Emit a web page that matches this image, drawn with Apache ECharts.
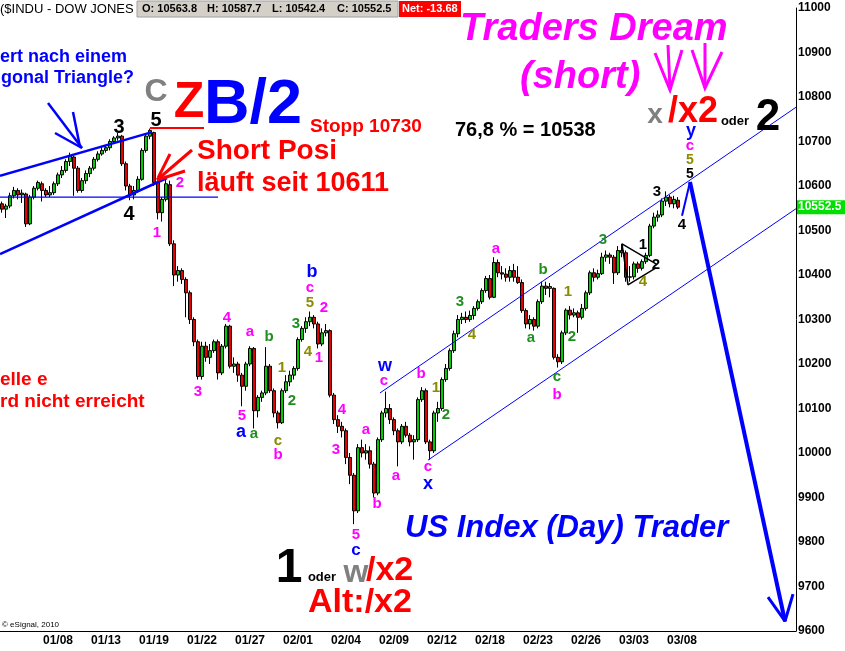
<!DOCTYPE html>
<html><head><meta charset="utf-8">
<script src="https://cdn.jsdelivr.net/npm/echarts@6/dist/echarts.min.js"></script>
<style>html,body{margin:0;padding:0;background:#fff}#c{width:845px;height:651px}</style>
</head><body><div id="c"></div>
<script>
// ---- DATA ----
const tradingDays = ['01/04','01/05','01/06','01/07','01/08','01/11','01/12','01/13','01/14','01/15','01/19','01/20','01/21','01/22','01/25','01/26','01/27','01/28','01/29','02/01','02/02','02/03','02/04','02/05','02/08','02/09','02/10','02/11','02/12','02/16','02/17','02/18','02/19','02/22','02/23','02/24','02/25','02/26','03/01','03/02','03/03','03/04','03/05','03/08','03/09','03/10','03/11','03/12','03/15','03/16','03/17'];
const barsPerDay = 4;
const firstBarOffset = 2; // first visible bar is the 3rd bar of the first session
const totalSlots = 199;
const tickLabels = ['01/08','01/13','01/19','01/22','01/27','02/01','02/04','02/09','02/12','02/18','02/23','02/26','03/03','03/08'];
// [open, close, low, high]
const candles = [
[10560,10548,10540,10565],[10548,10555,10528,10560],[10555,10578,10550,10585],[10578,10590,10572,10598],
[10590,10580,10570,10595],[10580,10584,10562,10592],[10582,10515,10508,10585],[10515,10575,10512,10580],
[10575,10595,10570,10600],[10595,10608,10590,10612],[10605,10590,10565,10610],[10590,10580,10575,10595],
[10580,10585,10575,10600],[10585,10605,10580,10610],[10605,10625,10600,10630],[10625,10635,10618,10645],
[10635,10655,10630,10660],[10655,10668,10645,10675],[10665,10640,10578,10668],[10640,10590,10585,10645],
[10590,10612,10585,10618],[10612,10628,10605,10635],[10628,10640,10620,10645],[10640,10660,10635,10665],
[10660,10672,10655,10678],[10672,10680,10668,10688],[10680,10686,10675,10692],[10686,10700,10680,10705],
[10700,10708,10695,10712],[10708,10712,10702,10720],[10712,10650,10645,10715],[10650,10600,10590,10655],
[10600,10580,10568,10605],[10580,10590,10570,10600],[10590,10615,10585,10622],[10615,10680,10612,10685],
[10680,10712,10675,10718],[10712,10725,10705,10729],[10720,10608,10600,10722],[10608,10540,10525,10612],
[10540,10570,10520,10575],[10570,10605,10565,10615],[10603,10470,10465,10612],[10470,10400,10375,10478],
[10400,10410,10385,10420],[10410,10390,10380,10415],[10390,10360,10305,10395],[10360,10300,10290,10365],
[10300,10250,10240,10305],[10250,10172,10165,10255],[10172,10240,10165,10250],[10240,10215,10205,10250],
[10215,10230,10200,10245],[10230,10250,10225,10255],[10250,10180,10165,10255],[10180,10240,10175,10245],
[10240,10285,10235,10290],[10285,10195,10190,10288],[10195,10200,10180,10215],[10200,10175,10160,10205],
[10175,10150,10105,10180],[10150,10200,10140,10205],[10200,10235,10195,10240],[10235,10095,10055,10238],
[10095,10125,10080,10130],[10125,10135,10115,10140],[10135,10195,10130,10238],[10195,10140,10135,10200],
[10140,10090,10080,10145],[10090,10068,10055,10095],[10068,10140,10065,10145],[10140,10160,10135,10175],
[10160,10175,10150,10185],[10175,10190,10165,10195],[10190,10255,10185,10260],[10255,10280,10250,10285],
[10280,10295,10270,10305],[10295,10305,10285,10318],[10305,10290,10280,10310],[10290,10245,10235,10295],
[10245,10270,10240,10280],[10270,10275,10262,10290],[10275,10130,10125,10278],[10130,10075,10065,10135],
[10075,10060,10045,10085],[10060,10050,10035,10070],[10050,9990,9975,10055],[9990,9950,9930,10000],
[9950,9870,9840,9955],[9870,10012,9865,10020],[10012,10000,9990,10030],[10000,10005,9985,10020],
[10005,9975,9965,10015],[9975,9910,9900,9980],[9910,10030,9905,10035],[10030,10090,10025,10095],
[10090,10100,10080,10138],[10100,10075,10065,10110],[10075,10050,10040,10080],[10050,10025,9970,10055],
[10025,10060,10020,10065],[10060,10040,10035,10070],[10040,10025,10015,10045],[10025,10030,9985,10040],
[10030,10120,10025,10125],[10120,10140,10115,10148],[10140,10025,10020,10145],[10025,10005,9985,10030],
[10005,10090,10000,10095],[10090,10100,10070,10115],[10100,10165,10095,10170],[10165,10190,10160,10200],
[10190,10230,10185,10235],[10230,10268,10225,10275],[10268,10300,10260,10310],[10300,10305,10290,10315],
[10305,10300,10292,10318],[10300,10309,10295,10320],[10309,10325,10300,10330],[10325,10340,10320,10345],
[10340,10365,10335,10370],[10365,10392,10360,10398],[10392,10350,10345,10400],[10350,10428,10348,10440],
[10428,10405,10395,10435],[10405,10402,10390,10420],[10402,10395,10385,10415],[10395,10410,10385,10420],
[10410,10395,10385,10425],[10395,10383,10380,10420],[10383,10320,10315,10390],[10320,10290,10280,10325],
[10290,10300,10278,10310],[10300,10285,10275,10305],[10285,10340,10280,10345],[10340,10375,10335,10385],
[10375,10370,10355,10385],[10370,10374,10350,10382],[10370,10215,10210,10372],[10215,10205,10192,10222],
[10205,10270,10200,10275],[10270,10321,10265,10325],[10321,10310,10300,10330],[10310,10315,10305,10325],
[10315,10305,10270,10320],[10305,10325,10300,10335],[10325,10360,10320,10365],[10360,10405,10355,10410],
[10405,10395,10385,10415],[10395,10403,10390,10412],[10403,10440,10400,10450],[10440,10445,10430,10455],
[10445,10440,10425,10450],[10440,10405,10380,10445],[10405,10455,10400,10465],[10455,10450,10440,10470],
[10450,10395,10385,10455],[10395,10396,10385,10420],[10396,10425,10390,10430],[10425,10415,10405,10430],
[10415,10430,10410,10435],[10430,10444,10425,10450],[10444,10510,10440,10515],[10510,10530,10505,10540],
[10530,10535,10520,10545],[10535,10566,10530,10572],[10566,10575,10555,10588],[10575,10560,10552,10580],
[10560,10570,10550,10578],[10568,10552.5,10548,10575]
];
const lastPrice = 10552.5;
const header = {O:'10563.8', H:'10587.7', L:'10542.4', C:'10552.5', Net:'-13.68'};
// drawn lines, [bar slot, price]
const wedgeUpper = [[-0.5,10623],[37.5,10721]];
const wedgeLower = [[-0.5,10447],[41.25,10618]];
const supportLine = [[-0.5,10575],[54,10575]];
const channelUpper = [[94.5,10135],[198.5,10777]];
const channelLower = [[106.5,9984],[198.5,10549]];
const projUp = [[170,10533],[172,10609]];
const projDown = [[172,10609],[195.75,9622]];
const projHead = [[191.5,9676],[195.75,9622],[197.75,9683]];
const triangle = [[163.5,10416],[156.5,10378],[155,10470],[163.5,10425]];

// ---- CHART ----
const categories = [];
for (let s = 0; s < totalSlots; s++) {
  const k = s + firstBarOffset;
  categories.push(tradingDays[Math.floor(k / barsPerDay)] + '|' + (k % barsPerDay));
}
const FONT = '"Liberation Sans", Arial, sans-serif';
const chart = echarts.init(document.getElementById('c'), null, {renderer:'canvas'});

function lineSeries(data, color, width) {
  return {type:'line', xAxisIndex:1, yAxisIndex:0, data, symbol:'none', silent:true,
    lineStyle:{color, width}, z:5, animation:false};
}
function T(text, x, y, color, size, o) {
  o = o || {};
  const align = o.align || 'center';
  return {type:'text', x, y, silent:true, z:o.z || 200,
    style:{text, fill:color, font:(o.italic?'italic ':'') + (o.normal?'':'bold ') + size + 'px ' + FONT,
      textAlign:align, align:align, textVerticalAlign:'middle', verticalAlign:'middle'}};
}
function P(points, color, width) {
  return {type:'polyline', silent:true, z:150, shape:{points}, style:{stroke:color, lineWidth:width, fill:null}};
}
const MAG = '#ff00ff', RED = '#ff0000', BLU = '#0000ff', GRN = '#1f8f1f', OLV = '#8c8c00', GRY = '#808080', BLK = '#000000';
const waveLabels = [
 ['3',119,127,BLK,20],['5',156,120,BLK,20],['4',129,214,BLK,20],
 ['3',657,192,BLK,15],['4',682,225,BLK,15],['5',690,174,BLK,14],['1',643,245,BLK,15],['2',656,265,BLK,15],
 ['1',157,233,MAG,15],['2',180,183,MAG,15],['3',198,392,MAG,15],['4',227,318,MAG,15],['5',242,416,MAG,15],
 ['a',250,332,MAG,15],['b',278,455,MAG,15],['c',310,288,MAG,15],['2',324,308,MAG,15],['1',319,358,MAG,15],
 ['4',342,410,MAG,15],['3',336,450,MAG,15],['a',366,430,MAG,15],['5',356,535,MAG,15],['b',377,504,MAG,15],
 ['c',384,381,MAG,15],['a',396,476,MAG,15],['b',421,374,MAG,15],['c',428,467,MAG,15],['a',496,249,MAG,15],
 ['b',557,395,MAG,15],['c',690,146,MAG,15],
 ['a',241,432,BLU,18],['b',312,272,BLU,18],['c',356,550,BLU,17],['w',385,366,BLU,18],['x',428,484,BLU,18],['y',691,131,BLU,18],
 ['a',254,434,GRN,15],['b',269,337,GRN,15],['2',292,401,GRN,15],['3',296,324,GRN,15],['2',446,415,GRN,15],
 ['3',460,302,GRN,15],['b',543,270,GRN,15],['a',531,338,GRN,15],['c',557,377,GRN,15],['2',572,337,GRN,15],['3',603,240,GRN,15],
 ['c',278,441,OLV,15],['1',282,368,OLV,15],['4',308,352,OLV,15],['5',310,303,OLV,15],['1',436,388,OLV,15],
 ['4',472,335,OLV,15],['1',568,292,OLV,15],['4',643,282,OLV,15],['5',690,160,OLV,14]
];

const graphics = [];
// header
graphics.push(T('($INDU - DOW JONES', 0, 9, BLK, 13, {align:'left', normal:true}));
graphics.push({type:'rect', silent:true, z:190, shape:{x:137,y:1,width:261,height:16}, style:{fill:'#d4d0c8', stroke:'#a0a0a0', lineWidth:1}});
graphics.push(T('O: ' + header.O, 142, 9, BLK, 11, {align:'left'}));
graphics.push(T('H: ' + header.H, 207, 9, BLK, 11, {align:'left'}));
graphics.push(T('L: ' + header.L, 272, 9, BLK, 11, {align:'left'}));
graphics.push(T('C: ' + header.C, 337, 9, BLK, 11, {align:'left'}));
graphics.push({type:'rect', silent:true, z:190, shape:{x:399,y:1,width:62,height:16}, style:{fill:'#ff0000'}});
graphics.push(T('Net: ' + header.Net, 402, 9, '#ffffff', 11, {align:'left'}));
// big annotation texts
graphics.push(T('ert nach einem', 0, 57, BLU, 18, {align:'left'}));
graphics.push(T('gonal Triangle?', 1, 78, BLU, 18, {align:'left'}));
graphics.push(T('C', 156, 92, GRY, 32));
graphics.push(T('Z', 189, 103, RED, 50));
graphics.push(T('B/2', 204, 106, BLU, 63, {align:'left'}));
graphics.push(T('Stopp 10730', 310, 127, RED, 19, {align:'left'}));
graphics.push(T('Short Posi', 197, 151, RED, 28, {align:'left'}));
graphics.push(T('läuft seit 10611', 197, 184, RED, 27, {align:'left'}));
graphics.push(T('76,8 % = 10538', 455, 130, BLK, 20, {align:'left'}));
graphics.push(T('Traders Dream', 460, 30, MAG, 38, {align:'left', italic:true}));
graphics.push(T('(short)', 520, 78, MAG, 38, {align:'left', italic:true}));
graphics.push(T('x', 655, 115, GRY, 28));
graphics.push(T('/x2', 668, 112, RED, 36, {align:'left'}));
graphics.push(T('oder', 735, 121, BLK, 13));
graphics.push(T('2', 768, 118, BLK, 44));
graphics.push(T('elle e', 0, 380, RED, 19, {align:'left'}));
graphics.push(T('rd nicht erreicht', 0, 402, RED, 19, {align:'left'}));
graphics.push(T('US Index (Day) Trader', 405, 528, BLU, 31, {align:'left', italic:true}));
graphics.push(T('1', 289, 569, BLK, 48));
graphics.push(T('oder', 322, 577, BLK, 13));
graphics.push(T('w', 356, 573, GRY, 32));
graphics.push(T('/x2', 366, 571, RED, 34, {align:'left'}));
graphics.push(T('Alt:/x2', 308, 603, RED, 34, {align:'left'}));
graphics.push(T('\u00a9 eSignal, 2010', 2, 625, BLK, 8, {align:'left', normal:true}));
waveLabels.forEach(w => graphics.push(T(w[0], w[1], w[2], w[3], w[4])));
// arrows
graphics.push(P([[48,103],[82,148]], BLU, 2.5));
graphics.push(P([[73,112],[80,147]], BLU, 2.5));
graphics.push(P([[55,133],[82,148]], BLU, 2.5));
graphics.push(P([[192,150],[157,180]], RED, 3));
graphics.push(P([[185,171],[157,180]], RED, 3));
graphics.push(P([[170,154],[158,178]], RED, 3));
graphics.push(P([[150,128],[204,128]], RED, 2));
graphics.push(P([[655,53],[670,90],[682,50]], MAG, 3));
graphics.push(P([[668,45],[670,90]], MAG, 3));
graphics.push(P([[692,50],[705,88],[722,52]], MAG, 3));
graphics.push(P([[705,43],[705,88]], MAG, 3));

chart.setOption({
  animation:false,
  backgroundColor:'#ffffff',
  grid:{left:0, right:49, top:8, bottom:20, containLabel:false, outerBoundsMode:'none'},
  xAxis:[{
    type:'category', data:categories, boundaryGap:true,
    axisLine:{onZero:false, lineStyle:{color:'#000', width:1}}, axisTick:{show:false}, splitLine:{show:false},
    axisLabel:{
      interval:(i, v) => { const p = v.split('|'); return p[1] === '0' && tickLabels.indexOf(p[0]) >= 0; },
      formatter:v => v.split('|')[0], color:'#000', fontWeight:'bold', fontSize:12, fontFamily:FONT, margin:4
    }
  },{
    type:'value', min:-0.5, max:totalSlots - 0.5, show:false
  }],
  yAxis:[{
    type:'value', position:'right', min:9600, max:11000, interval:100,
    axisLine:{show:true, onZero:false, lineStyle:{color:'#000', width:1}}, axisTick:{show:false}, splitLine:{show:false},
    axisLabel:{color:'#000', fontWeight:'bold', fontSize:12, fontFamily:FONT, margin:2, formatter:v => String(v)}
  }],
  series:[
    {type:'candlestick', xAxisIndex:0, yAxisIndex:0, data:candles, barWidth:4, z:3,
      itemStyle:{color:'#00cc00', color0:'#e80000', borderColor:'#000', borderColor0:'#000', borderWidth:1}},
    lineSeries(wedgeUpper, BLU, 2.5),
    lineSeries(wedgeLower, BLU, 2.5),
    lineSeries(supportLine, BLU, 1.2),
    lineSeries(channelUpper, BLU, 1),
    lineSeries(channelLower, BLU, 1),
    lineSeries(projUp, BLU, 2),
    lineSeries(projDown, BLU, 4),
    lineSeries(projHead, BLU, 3),
    lineSeries(triangle, BLK, 1.5)
  ]
});
// last-price tag on the right axis, positioned through the axis scale
const py = chart.convertToPixel({yAxisIndex:0}, lastPrice);
const gridRight = chart.convertToPixel({xAxisIndex:1}, totalSlots - 0.5);
graphics.push({type:'rect', silent:true, z:210, shape:{x:gridRight + 1, y:py - 7, width:845 - gridRight - 1, height:14}, style:{fill:'#00e000'}});
graphics.push(T(String(lastPrice), gridRight + 2, py, '#ffffff', 12, {align:'left', z:220}));
chart.setOption({graphic:{elements:graphics}});
</script>
</body></html>
